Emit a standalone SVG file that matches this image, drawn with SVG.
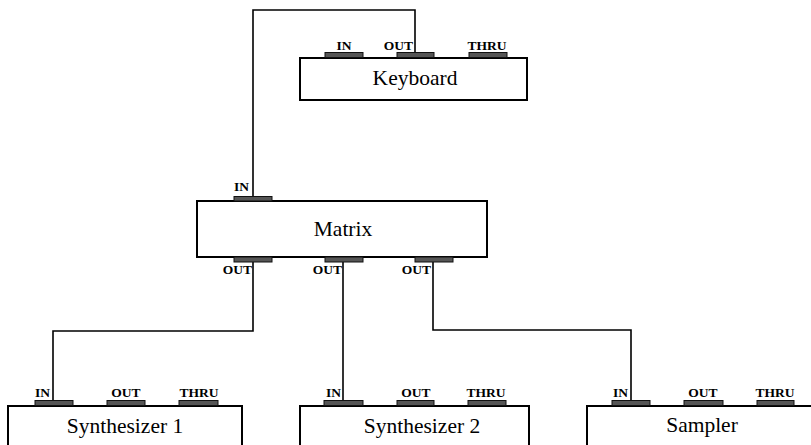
<svg xmlns="http://www.w3.org/2000/svg" width="811" height="445" viewBox="0 0 811 445">
<style>
.box{fill:#fff;stroke:#000;stroke-width:2}
.port{fill:#555;stroke:#111;stroke-width:1}
.name{font-family:"Liberation Serif",serif;font-size:21.5px;text-anchor:middle;fill:#000}
.lbl{font-family:"Liberation Serif",serif;font-size:13.5px;font-weight:bold;text-anchor:middle;fill:#000}
.lble{font-family:"Liberation Serif",serif;font-size:13.5px;font-weight:bold;text-anchor:end;fill:#000}
.wire{fill:none;stroke:#000;stroke-width:1.6}
</style>
<rect width="811" height="445" fill="#fff"/>
<g id="connectors">
<path class="wire" d="M415,58 V10 H253 V197"/>
<path class="wire" d="M253,262 V331 H53 V401"/>
<path class="wire" d="M343,262 V401"/>
<path class="wire" d="M433,262 V330 H631 V401"/>
</g>
<g id="keyboard">
<rect class="box" x="300" y="58" width="227" height="42"/>
<rect class="port" x="325" y="52.5" width="38" height="5"/>
<rect class="port" x="397" y="52.5" width="37" height="5"/>
<rect class="port" x="469" y="52.5" width="38" height="5"/>
<text class="lbl" x="344" y="50">IN</text>
<text class="lble" x="413" y="50">OUT</text>
<text class="lbl" x="487" y="50">THRU</text>
<text class="name" x="415" y="85">Keyboard</text>
</g>
<g id="matrix">
<rect class="box" x="197" y="201" width="290" height="56"/>
<rect class="port" x="234" y="196.5" width="38" height="4.5"/>
<rect class="port" x="234" y="257" width="38" height="5"/>
<rect class="port" x="325" y="257" width="38" height="5"/>
<rect class="port" x="415" y="257" width="38" height="5"/>
<text class="lble" x="249" y="191">IN</text>
<text class="lble" x="252" y="274">OUT</text>
<text class="lble" x="342" y="274">OUT</text>
<text class="lble" x="431" y="274">OUT</text>
<text class="name" x="343" y="236">Matrix</text>
</g>
<g id="synth1">
<rect class="box" x="8" y="406" width="234" height="60"/>
<rect class="port" x="35" y="400.5" width="38" height="5"/>
<rect class="port" x="107" y="400.5" width="38" height="5"/>
<rect class="port" x="179" y="400.5" width="39" height="5"/>
<text class="lble" x="50" y="397">IN</text>
<text class="lbl" x="126" y="397">OUT</text>
<text class="lbl" x="199" y="397">THRU</text>
<text class="name" x="125" y="433">Synthesizer 1</text>
</g>
<g id="synth2">
<rect class="box" x="300" y="406" width="229" height="60"/>
<rect class="port" x="324" y="400.5" width="39" height="5"/>
<rect class="port" x="397" y="400.5" width="37" height="5"/>
<rect class="port" x="468" y="400.5" width="38" height="5"/>
<text class="lble" x="341" y="397">IN</text>
<text class="lbl" x="416" y="397">OUT</text>
<text class="lbl" x="486" y="397">THRU</text>
<text class="name" x="422" y="433">Synthesizer 2</text>
</g>
<g id="sampler">
<rect class="box" x="587" y="406" width="240" height="60"/>
<rect class="port" x="612" y="400.5" width="38" height="5"/>
<rect class="port" x="684" y="400.5" width="39" height="5"/>
<rect class="port" x="757" y="400.5" width="37" height="5"/>
<text class="lble" x="628" y="397">IN</text>
<text class="lbl" x="703" y="397">OUT</text>
<text class="lbl" x="775" y="397">THRU</text>
<text class="name" x="702" y="432">Sampler</text>
</g>
</svg>
